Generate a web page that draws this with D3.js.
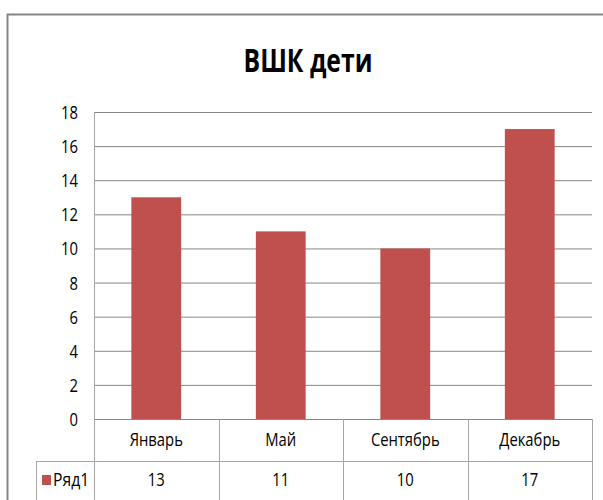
<!DOCTYPE html>
<html>
<head>
<meta charset="utf-8">
<script src="https://cdn.jsdelivr.net/npm/d3@7"></script>
<style>
  body { margin: 0; background: #fff; }
  svg text { font-family: "Open Sans", sans-serif; fill: #000; }
</style>
</head>
<body>
<div id="chart"></div>
<script>
// chart data
var categories = ["Январь", "Май", "Сентябрь", "Декабрь"];
var values = [13, 11, 10, 17];
var seriesName = "Ряд1";
var titleText = "ВШК дети";
var yMax = 18;

var W = 603, H = 500;
var plot = { left: 94, right: 592, top: 112, bottom: 419 };
var rowH = 42;

// squeeze text horizontally around its anchor (mimics the narrow font of the original)
function squeeze(sel, k) {
  sel.each(function () {
    var t = d3.select(this);
    var x0 = +t.attr("x") || 0;
    t.attr("transform", "translate(" + x0 + ",0) scale(" + k + ",1) translate(" + (-x0) + ",0)");
  });
}

var svg = d3.select("#chart")
  .append("svg")
  .attr("width", W)
  .attr("height", H);

// outer chart border
svg.append("rect")
  .attr("x", 7.5).attr("y", 14.5)
  .attr("width", 620).attr("height", 520)
  .attr("fill", "none")
  .attr("stroke", "#868686")
  .attr("stroke-width", 2);

// title
svg.append("text")
  .attr("x", 308)
  .attr("y", 72)
  .attr("text-anchor", "middle")
  .style("font-size", "33px")
  .style("font-weight", "bold")
  .text(titleText)
  .call(squeeze, 0.75);

var x = d3.scaleBand()
  .domain(categories)
  .range([plot.left, plot.right])
  .paddingInner(0).paddingOuter(0);

var y = d3.scaleLinear()
  .domain([0, yMax])
  .range([plot.bottom, plot.top]);

// gridlines
var yAxis = svg.append("g")
  .attr("transform", "translate(" + plot.left + ",0)")
  .call(d3.axisLeft(y).tickValues(d3.range(0, yMax + 1, 2)).tickSize(-(plot.right - plot.left)).tickPadding(16));
yAxis.select(".domain").remove();
yAxis.selectAll(".tick line")
  .attr("stroke", "#868686")
  .attr("stroke-width", 1);
yAxis.selectAll(".tick text")
  .style("font-size", "18.5px")
  .attr("dy", "0.35em")
  .call(squeeze, 0.8);

// bars
var barW = x.bandwidth() / 2.5;
svg.selectAll(".bar")
  .data(values)
  .enter()
  .append("rect")
  .attr("class", "bar")
  .attr("x", function (d, i) { return x(categories[i]) + (x.bandwidth() - barW) / 2; })
  .attr("y", function (d) { return y(d); })
  .attr("width", barW)
  .attr("height", function (d) { return y(0) - y(d); })
  .attr("fill", "#c0504d");

// data table
var tableColor = "#a6a6a6";
var table = svg.append("g");
var row2 = plot.bottom + rowH;
var tableBottom = row2 + 45;
var legendLeft = 36;

// horizontal lines
table.append("line")
  .attr("x1", plot.left).attr("x2", plot.right)
  .attr("y1", plot.bottom + 0.5).attr("y2", plot.bottom + 0.5)
  .attr("stroke", "#868686");
table.append("line")
  .attr("x1", legendLeft).attr("x2", plot.right)
  .attr("y1", row2 + 0.5).attr("y2", row2 + 0.5)
  .attr("stroke", tableColor);

// axis line on the left
table.append("line")
  .attr("x1", plot.left + 0.5).attr("x2", plot.left + 0.5)
  .attr("y1", plot.top).attr("y2", tableBottom)
  .attr("stroke", tableColor);
table.append("line")
  .attr("x1", legendLeft + 0.5).attr("x2", legendLeft + 0.5)
  .attr("y1", row2).attr("y2", tableBottom)
  .attr("stroke", tableColor);

// column separators
table.selectAll(".sep")
  .data(categories)
  .enter()
  .append("line")
  .attr("class", "sep")
  .attr("x1", function (d) { return Math.round(x(d) + x.bandwidth()) + 0.5; })
  .attr("x2", function (d) { return Math.round(x(d) + x.bandwidth()) + 0.5; })
  .attr("y1", plot.bottom)
  .attr("y2", tableBottom)
  .attr("stroke", tableColor);

// category labels
table.selectAll(".cat")
  .data(categories)
  .enter()
  .append("text")
  .attr("class", "cat")
  .attr("x", function (d) { return x(d) + x.bandwidth() / 2; })
  .attr("y", plot.bottom + rowH / 2)
  .attr("dy", "0.35em")
  .attr("text-anchor", "middle")
  .style("font-size", "18.5px")
  .text(function (d) { return d; })
  .call(squeeze, 0.8);

// value labels
table.selectAll(".val")
  .data(values)
  .enter()
  .append("text")
  .attr("class", "val")
  .attr("x", function (d, i) { return x(categories[i]) + x.bandwidth() / 2; })
  .attr("y", row2 + 19)
  .attr("dy", "0.35em")
  .attr("text-anchor", "middle")
  .style("font-size", "18.5px")
  .text(function (d) { return d; })
  .call(squeeze, 0.8);

// legend key
table.append("rect")
  .attr("x", 42).attr("y", row2 + 14)
  .attr("width", 9).attr("height", 10)
  .attr("fill", "#c0504d");
table.append("text")
  .attr("x", 53)
  .attr("y", row2 + 19)
  .attr("dy", "0.35em")
  .style("font-size", "18.5px")
  .text(seriesName)
  .call(squeeze, 0.85);
</script>
</body>
</html>
